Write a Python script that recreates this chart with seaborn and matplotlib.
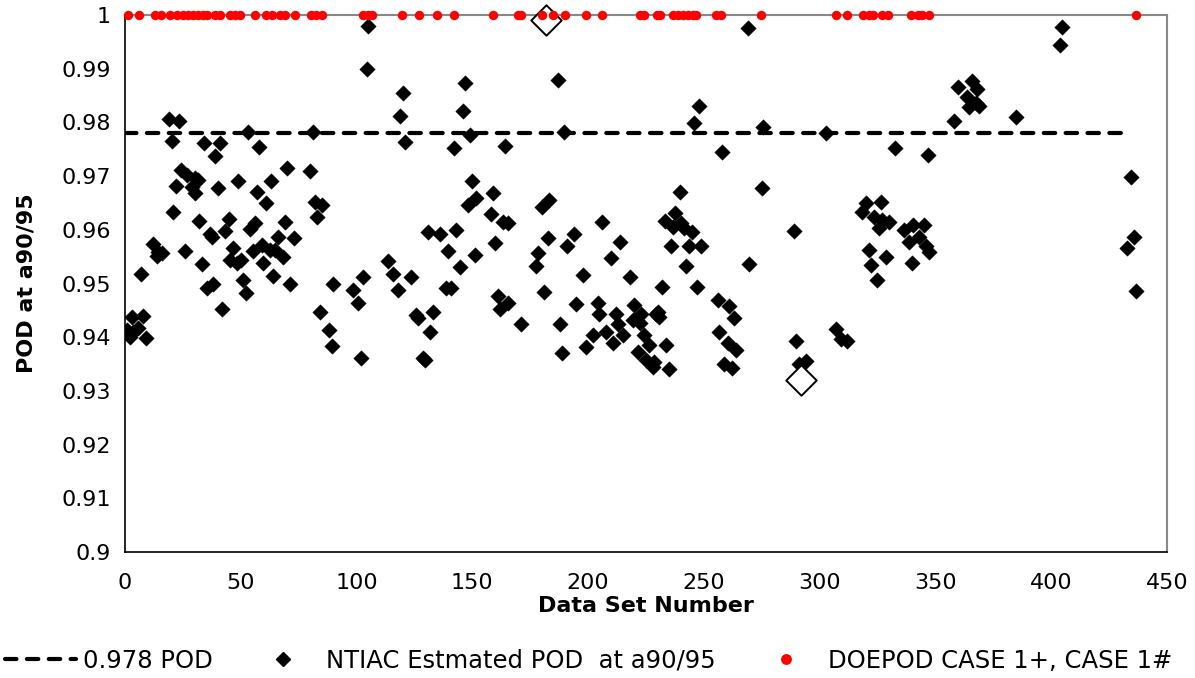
import numpy as np
import pandas as pd
import matplotlib
matplotlib.use("Agg")
import matplotlib.pyplot as plt
import seaborn as sns
from matplotlib.lines import Line2D

# ---- data ----
ntiac_x = [0.7, 2.2, 2.9, 3.6, 5.7, 7.9, 8.9, 6.9, 12.2, 13.7, 14.4, 15.8,
           19, 23.3, 20.1, 20.8, 22, 24, 26.6, 25.9, 28.8, 30.2, 30.2, 31.6, 32, 33.1, 34.2, 35.2,
           36.5, 37.4, 38.1, 38.8, 40, 41, 41.7, 43.1, 45, 45.3, 46.7, 48.2, 49, 50.3, 51, 52.1,
           53.2, 53.9, 55.4, 56.1, 57.2, 58, 59, 59.7, 61.1, 62.6, 62.9, 64, 64.7, 66.1, 68.3, 69,
           69.9, 71.2, 73, 80.1, 81, 82, 83, 84.1, 84.9, 88.1, 89.2, 89.9,
           98.5, 100.6, 101.8, 102.8, 104.3, 105,
           113.6, 115.8, 117.9, 118.9, 120, 121.1, 123.7, 125.8, 126.5, 128.7, 129.4, 130.9, 131.9,
           133, 135.9, 138.8, 139.5, 140.9, 141.9, 143.1, 144.5, 146, 147, 148.1, 148.8, 150, 151,
           151.7, 157.9, 158.9, 159.6, 161, 161.8, 163.2, 163.9, 165.4, 165.4, 171.1,
           177.6, 178.3, 180, 180.9, 182.6, 183.3, 187, 187.7, 188.8, 189.8, 191, 193.8, 194.8,
           197.7, 199.2, 202, 204.2, 204.9, 205.9, 207.8, 210, 210.7, 212.1, 212.8, 213.8, 215,
           217.9, 219.3, 220, 221.4, 222.2, 222.9, 224.3, 225, 226.5, 227.9, 228.6, 229.4, 230.1, 230.8,
           232, 233, 233.7, 235.1, 235.8, 236.5, 237.7, 239.7, 240.2, 241.6, 242.3, 243.7, 244.9,
           245.9, 246.9, 247.8, 248.8,
           256, 256.7, 257.9, 258.8, 260.3, 260.7, 262.2, 263.2, 263.9, 268.9, 269.6, 275, 275.7,
           288.7, 289.8, 291.2, 294.1, 302.7, 307, 309.2, 312,
           318.2, 320, 321.4, 322.1, 323.6, 324.7, 325.7, 326.7, 327.1, 328.6, 330, 332.6,
           336.5, 338.7, 339.8, 340.1, 343, 345.1, 345.9, 346.6, 347.3,
           357.8, 359.9, 363.8, 364.5, 365.7, 367.4, 367.9, 368.9, 384.7, 403.8, 404.5,
           432.6, 434.6, 435.7, 436.4]
ntiac_pod = [0.9413, 0.9401, 0.9438, 0.9410, 0.9417, 0.9439, 0.9399, 0.9517, 0.9574, 0.9551, 0.9559, 0.9556,
             0.9806, 0.9802, 0.9765, 0.9633, 0.9682, 0.9711, 0.9702, 0.9561, 0.9680, 0.9696, 0.9668, 0.9693, 0.9616, 0.9536, 0.9761, 0.9491,
             0.9593, 0.9587, 0.9499, 0.9738, 0.9677, 0.9761, 0.9453, 0.9597, 0.9621, 0.9544, 0.9566, 0.9538, 0.9691, 0.9544, 0.9507, 0.9482,
             0.9783, 0.9601, 0.9561, 0.9613, 0.9670, 0.9755, 0.9572, 0.9538, 0.9650, 0.9562, 0.9691, 0.9514, 0.9562, 0.9587, 0.9550, 0.9614,
             0.9715, 0.9500, 0.9584, 0.9710, 0.9783, 0.9652, 0.9623, 0.9447, 0.9647, 0.9413, 0.9384, 0.9500,
             0.9488, 0.9464, 0.9362, 0.9512, 0.9899, 0.9979,
             0.9541, 0.9517, 0.9488, 0.9811, 0.9854, 0.9763, 0.9513, 0.9441, 0.9435, 0.9361, 0.9358, 0.9595, 0.9409,
             0.9446, 0.9593, 0.9491, 0.9561, 0.9491, 0.9752, 0.9600, 0.9530, 0.9822, 0.9874, 0.9646, 0.9777, 0.9690, 0.9553,
             0.9659, 0.9629, 0.9668, 0.9575, 0.9477, 0.9452, 0.9615, 0.9756, 0.9612, 0.9463, 0.9425,
             0.9533, 0.9556, 0.9643, 0.9485, 0.9584, 0.9655, 0.9879, 0.9425, 0.9370, 0.9782, 0.9569, 0.9593, 0.9462,
             0.9515, 0.9382, 0.9404, 0.9463, 0.9444, 0.9615, 0.9410, 0.9547, 0.9389, 0.9444, 0.9425, 0.9577, 0.9404,
             0.9512, 0.9432, 0.9460, 0.9373, 0.9426, 0.9444, 0.9404, 0.9358, 0.9385, 0.9345, 0.9354, 0.9444, 0.9447, 0.9438,
             0.9494, 0.9617, 0.9385, 0.9340, 0.9569, 0.9606, 0.9631, 0.9670, 0.9612, 0.9603, 0.9533, 0.9569, 0.9596,
             0.9798, 0.9494, 0.9831, 0.9569,
             0.9469, 0.9410, 0.9744, 0.9351, 0.9390, 0.9458, 0.9342, 0.9435, 0.9376, 0.9975, 0.9536, 0.9677, 0.9792,
             0.9598, 0.9393, 0.9351, 0.9356, 0.9780, 0.9415, 0.9396, 0.9393,
             0.9634, 0.9650, 0.9562, 0.9534, 0.9624, 0.9507, 0.9603, 0.9652, 0.9618, 0.9550, 0.9615, 0.9753,
             0.9600, 0.9578, 0.9538, 0.9609, 0.9587, 0.9609, 0.9569, 0.9739, 0.9559,
             0.9803, 0.9865, 0.9848, 0.9828, 0.9877, 0.9836, 0.9863, 0.9831, 0.9810, 0.9945, 0.9978,
             0.9566, 0.9699, 0.9587, 0.9486]

doepod_x = [1.1, 6.0, 12.9, 15.5, 19.4, 22.3, 25.2, 27.3, 29.5, 31.6, 33.8, 35.2, 38.8, 41, 45.3,
            47.5, 49.6, 56.1, 61.1, 63.3, 66.9, 69, 73.3, 80.5, 82.7, 84.9, 102.8, 105, 106.7,
            119.8, 127, 134.9, 141.9, 158.9, 169.7, 171.1, 180, 184.8, 190, 199, 205.9, 222.5,
            224, 229.8, 231, 236.5, 238.7, 240.9, 243, 245.2, 246.6, 255.3, 257.4, 274.7, 307,
            312, 318.5, 321.4, 322.9, 327.1, 329.3, 339.6, 342.3, 344.4, 347.3, 436.4]
doepod_pod = [1.0] * len(doepod_x)

highlight_x = [181.9, 291.9]
highlight_pod = [0.9991, 0.9320]

ref_x = [0, 434]
ref_pod = [0.978, 0.978]

y_ticks = [0.9, 0.91, 0.92, 0.93, 0.94, 0.95, 0.96, 0.97, 0.98, 0.99, 1.0]
x_ticks = [0, 50, 100, 150, 200, 250, 300, 350, 400, 450]

# ---- style ----
sns.set_theme(style="white")
plt.rcParams['font.family'] = ['DejaVu Sans']
plt.rcParams['text.color'] = 'black'
plt.rcParams['axes.labelcolor'] = 'black'
plt.rcParams['xtick.color'] = 'black'
plt.rcParams['ytick.color'] = 'black'
FS = 16
LFS = 17.5

fig = plt.figure(figsize=(11.95, 6.78), dpi=100)
ax = fig.add_axes([125/1195, 1 - 552/678, (1167-125)/1195, (552-15)/678])

DASH = (0, (2.75, 2.5))

ref_df = pd.DataFrame({"x": ref_x, "y": ref_pod})
sns.lineplot(data=ref_df, x="x", y="y", ax=ax, color="black", linewidth=3.0, zorder=2)
ax.lines[-1].set_linestyle(DASH)
ax.lines[-1].set_dash_capstyle("round")

ntiac_df = pd.DataFrame({"x": ntiac_x, "y": ntiac_pod})
sns.scatterplot(data=ntiac_df, x="x", y="y", ax=ax, marker="D", s=62, color="black",
                edgecolor="black", linewidth=0.3, zorder=3)

hl_df = pd.DataFrame({"x": highlight_x, "y": highlight_pod})
sns.scatterplot(data=hl_df, x="x", y="y", ax=ax, marker="D", s=240, facecolor="white",
                edgecolor="black", linewidth=1.4, zorder=4, clip_on=False)

doe_df = pd.DataFrame({"x": doepod_x, "y": doepod_pod})
sns.scatterplot(data=doe_df, x="x", y="y", ax=ax, marker="o", s=46, color="#ff0000",
                edgecolor="#ff0000", linewidth=0, zorder=5, clip_on=False)

ax.set_xlim(0, 450)
ax.set_ylim(0.9, 1.0)
ax.set_xticks(x_ticks)
ax.set_yticks(y_ticks)
ax.set_xticklabels([str(v) for v in x_ticks], fontsize=FS, color="black")
ax.set_yticklabels([f"{v:g}" for v in y_ticks], fontsize=FS, color="black")
ax.tick_params(axis="both", direction="out", length=6, width=1, color="#808080", pad=4)
ax.tick_params(axis="x", pad=9)

for side in ["top", "right"]:
    ax.spines[side].set_color("#888888")
    ax.spines[side].set_linewidth(1.5)
for side in ["left", "bottom"]:
    ax.spines[side].set_color("#000000")
    ax.spines[side].set_linewidth(1.2)

ax.set_xlabel("Data Set Number", fontsize=FS, fontweight="bold", labelpad=2, color="black")
ax.set_ylabel("POD at a90/95", fontsize=FS, fontweight="bold", labelpad=18, color="black")

handles = [
    Line2D([0], [0], color="black", linewidth=3.0, linestyle=DASH, dash_capstyle="round"),
    Line2D([0], [0], color="black", marker="D", linestyle="none", markersize=7.5),
    Line2D([0], [0], color="#ff0000", marker="o", linestyle="none", markersize=6.8),
]
labels = ["0.978 POD", "NTIAC Estmated POD  at a90/95", "DOEPOD CASE 1+, CASE 1#"]
fig.legend(handles, labels, loc="center", bbox_to_anchor=(589/1195, 1 - 661/678), ncol=3,
           frameon=False, fontsize=LFS, handlelength=2.9, columnspacing=1.45,
           handletextpad=0.3, labelcolor="black")

fig.savefig("out.png", dpi=100)
